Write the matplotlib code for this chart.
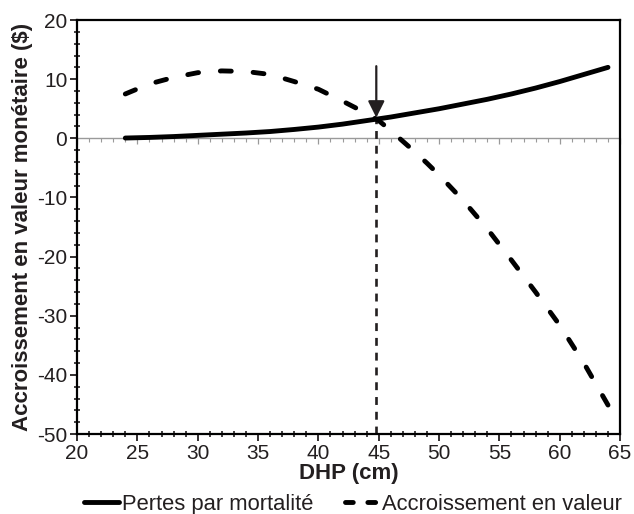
import numpy as np
import matplotlib.pyplot as plt
from matplotlib.ticker import MultipleLocator
from matplotlib.legend_handler import HandlerLine2D

plt.rcParams['font.family'] = ['Liberation Sans', 'DejaVu Sans']
plt.rcParams['axes.unicode_minus'] = False

# --- Data ---
dhp = [24, 26, 28, 30, 32, 34, 36, 38, 40, 42, 44, 45, 46, 47, 48, 49, 50,
       52, 54, 56, 58, 60, 62, 64]
pertes = [0.05, 0.15, 0.3, 0.5, 0.7, 0.9, 1.15, 1.5, 1.9, 2.4, 3.0, 3.3, 3.6,
          3.95, 4.3, 4.65, 5.0, 5.8, 6.6, 7.5, 8.5, 9.6, 10.8, 12.0]
accroissement = [7.5, 9.2, 10.3, 11.1, 11.4, 11.3, 10.8, 9.6, 8.3, 6.3, 4.2,
                 3.0, 1.3, -0.5, -2.3, -4.2, -6.2, -10.5, -15.3, -20.6,
                 -26.0, -31.6, -38.0, -45.1]
seuil = 44.8          # DHP where the two curves cross
seuil_val = 3.3
fleche_haut = 12.2

ink = '#231f20'
gris = '#9a9a9a'
lw_curve = 3.5

fig = plt.figure(figsize=(6.34, 5.14), dpi=100)
ax = fig.add_axes([0.1215, 0.1556, 0.8565, 0.8054])
ax.set_xlim(20, 65)
ax.set_ylim(-50, 20)

# gray zero line
ax.axhline(0, color=gris, lw=1.0, zorder=1)

ax.plot(dhp, pertes, color='black', lw=lw_curve, solid_capstyle='round',
        label='Pertes par mortalité', zorder=3)

# stretch the dash pattern so the curve starts and ends on a dash
pts = ax.transData.transform(np.column_stack([dhp, accroissement]))
L = np.sum(np.hypot(*np.diff(pts, axis=0).T)) / (lw_curve * fig.dpi / 72)
on, off = 2.3, 4.6
n = round((L - on) / (on + off))
k = L / (n * (on + off) + on)
ax.plot(dhp, accroissement, color='black', lw=lw_curve, dashes=(on * k, off * k),
        dash_capstyle='round', label='Accroissement en valeur', zorder=3)

# vertical marker and arrow
ax.plot([seuil, seuil], [-50, seuil_val], color=ink, lw=1.9, dashes=(3.0, 2.6),
        zorder=2)
ax.annotate('', xy=(seuil, seuil_val + 0.2), xytext=(seuil, fleche_haut),
            arrowprops=dict(arrowstyle='-|>', lw=1.6, color=ink,
                            mutation_scale=25, shrinkA=0, shrinkB=0))

ax.xaxis.set_major_locator(MultipleLocator(5))
ax.xaxis.set_minor_locator(MultipleLocator(1))
ax.yaxis.set_major_locator(MultipleLocator(10))
ax.yaxis.set_minor_locator(MultipleLocator(2))
ax.tick_params(which='major', length=5, width=1.3, labelsize=15,
               labelcolor=ink, color=ink, pad=2)
ax.tick_params(which='minor', length=4, width=1.2, color=ink, direction='inout')
for s in ax.spines.values():
    s.set_linewidth(1.6)
    s.set_color('black')

# small gray ticks hanging under the zero line
loc0 = (0 - ax.get_ylim()[0]) / (ax.get_ylim()[1] - ax.get_ylim()[0])
sec = ax.secondary_xaxis(loc0)
for s in sec.spines.values():
    s.set_visible(False)
sec.xaxis.set_ticks_position('bottom')
sec.xaxis.set_major_locator(MultipleLocator(5))
sec.xaxis.set_minor_locator(MultipleLocator(1))
sec.tick_params(which='major', direction='out', color=gris, length=4,
                width=0.9, labelbottom=False, labeltop=False)
sec.tick_params(which='minor', direction='out', color=gris, length=3,
                width=0.8)

ax.set_xlabel('DHP (cm)', fontsize=16, fontweight='bold', color=ink,
              labelpad=0)
ax.set_ylabel('Accroissement en valeur monétaire ($)', fontsize=16,
              fontweight='bold', color=ink, labelpad=3)


def legend_line(handle, orig):
    handle.update_from(orig)
    if orig.get_linestyle() != '-':
        handle.set_dashes((1.6, 3.0))


fig.legend(loc='lower center', bbox_to_anchor=(0.557, -0.04), ncol=2,
           frameon=False, fontsize=15.8, handlelength=1.6, handletextpad=0.1,
           columnspacing=1.45, labelcolor=ink,
           handler_map={plt.Line2D: HandlerLine2D(update_func=legend_line)})

fig.savefig('out.png', dpi=100)
